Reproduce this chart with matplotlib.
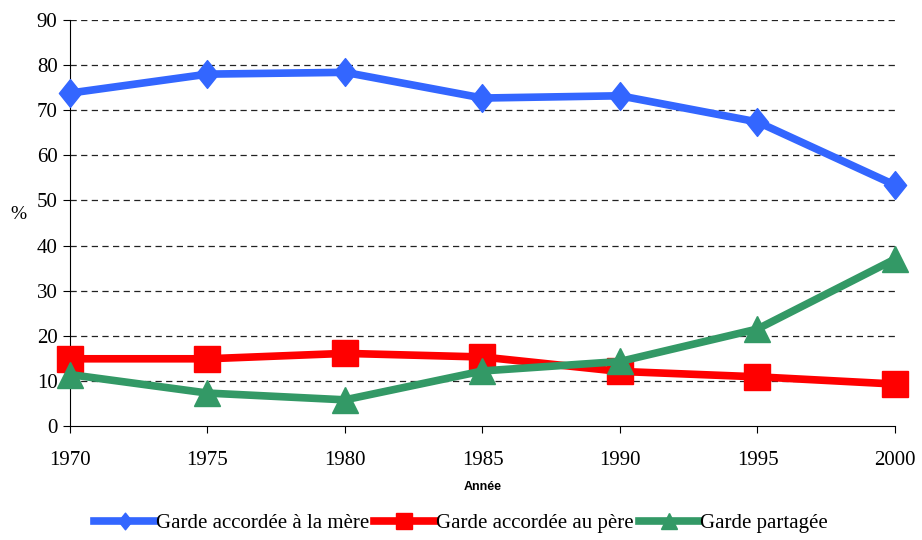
import matplotlib
matplotlib.use("Agg")
import matplotlib.pyplot as plt
from matplotlib.path import Path

years = [1970, 1975, 1980, 1985, 1990, 1995, 2000]
mere = [73.8, 78.0, 78.4, 72.7, 73.2, 67.4, 53.4]
pere = [14.9, 14.9, 16.1, 15.3, 12.1, 10.9, 9.3]
partagee = [11.4, 7.3, 5.8, 12.2, 14.3, 21.5, 37.0]

labels = ["Garde accordée à la mère", "Garde accordée au père", "Garde partagée"]

# losange un peu plus haut que large
diamond = Path([(0, 1), (0.8, 0), (0, -1), (-0.8, 0), (0, 1)],
               [Path.MOVETO, Path.LINETO, Path.LINETO, Path.LINETO, Path.CLOSEPOLY])

fig = plt.figure(figsize=(9.22, 5.4), dpi=100)
ax = fig.add_axes([70 / 922, 1 - 426 / 540, 825 / 922, 406 / 540])

ax.plot(years, mere, color="#3366FF", lw=5.5, marker=diamond, ms=20, label=labels[0], clip_on=False, zorder=3)
ax.plot(years, pere, color="#FF0000", lw=5.5, marker="s", ms=19, label=labels[1], clip_on=False, zorder=3)
ax.plot(years, partagee, color="#339966", lw=5.5, marker="^", ms=19, label=labels[2], clip_on=False, zorder=4)

ax.set_xlim(1970, 2000)
ax.set_ylim(0, 90)
ax.set_xticks(years)
ax.set_yticks(range(0, 91, 10))
for y in range(10, 91, 10):
    ax.axhline(y, color="#222222", lw=0.9, ls=(0, (5, 3.5)), zorder=1)

for s in ["top", "right"]:
    ax.spines[s].set_visible(False)
ax.spines["left"].set_linewidth(0.8)
ax.spines["bottom"].set_linewidth(0.8)
ax.tick_params(direction="out", length=5, width=0.8)
for t in ax.get_xticklabels() + ax.get_yticklabels():
    t.set_fontfamily("Liberation Serif")
    t.set_fontsize(15)
ax.tick_params(axis="x", pad=13)
ax.tick_params(axis="y", pad=4)

ax.set_xlabel("Année", fontsize=9, fontweight="bold", family="Liberation Sans", labelpad=8)
ax.set_ylabel("%", fontsize=14, family="Liberation Serif", rotation=0, labelpad=0)
ax.yaxis.set_label_coords(-0.063, 0.5)

fig.legend(loc="lower center", bbox_to_anchor=(0.5, -0.022), ncol=3, frameon=False,
           prop={"family": "Liberation Serif", "size": 15}, handlelength=2.9,
           handletextpad=0.05, columnspacing=0.25, markerscale=0.6)

fig.savefig("out.png", dpi=100)
